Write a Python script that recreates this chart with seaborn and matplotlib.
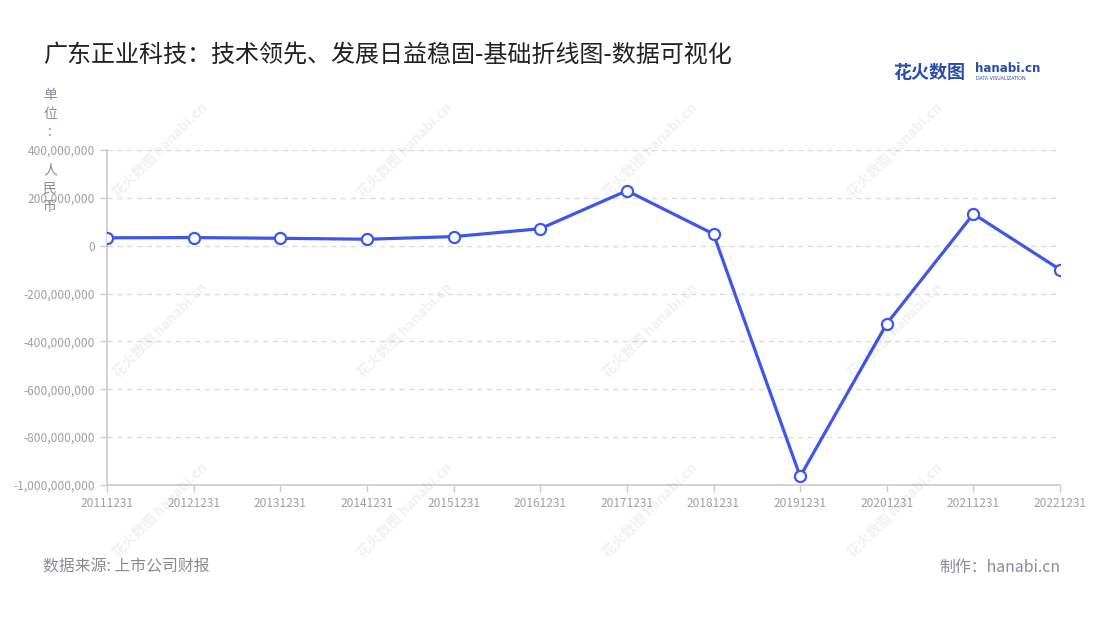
import matplotlib
matplotlib.use("Agg")
import matplotlib.pyplot as plt
import matplotlib.ticker as mticker
import pandas as pd
import seaborn as sns

# 数据
dates = ["20111231", "20121231", "20131231", "20141231", "20151231", "20161231",
         "20171231", "20181231", "20191231", "20201231", "20211231", "20221231"]
profit = [33e6, 34e6, 31e6, 27e6, 38e6, 71e6, 230e6, 49e6, -965e6, -326e6, 133e6, -100e6]
y_ticks = [400e6, 200e6, 0, -200e6, -400e6, -600e6, -800e6, -1000e6]

title = "广东正业科技：技术领先、发展日益稳固-基础折线图-数据可视化"
source = "数据来源: 上市公司财报"
maker = "制作：hanabi.cn"
unit_lines = ["单", "位", ":", "", "人", "民", "币"]

sns.set_theme(style="white")
plt.rcParams["font.family"] = ["Noto Sans CJK SC", "DejaVu Sans"]

df = pd.DataFrame({"date": dates, "value": profit})

fig = plt.figure(figsize=(11, 6.2), dpi=100)
ax = fig.add_axes([0.0973, 0.218, 0.8664, 0.540])

line_color = "#3d57e8"
sns.lineplot(data=df, x="date", y="value", ax=ax, sort=False, color=line_color,
             linewidth=2.3, marker="o", markersize=8, markerfacecolor="white",
             markeredgecolor=line_color, markeredgewidth=1.6, zorder=5)

ax.set_xlim(0, len(dates) - 1)
ax.set_ylim(-1000e6, 400e6)
ax.set_yticks(y_ticks)
ax.yaxis.set_major_formatter(mticker.FuncFormatter(lambda v, p: f"{int(v):,}"))
ax.grid(axis="y", color="#dddddd", linestyle=(0, (4, 3)), linewidth=1)
ax.set_xlabel("")
ax.set_ylabel("")

for s in ["top", "right"]:
    ax.spines[s].set_visible(False)
for s in ["left", "bottom"]:
    ax.spines[s].set_color("#cccccc")
    ax.spines[s].set_linewidth(1.2)
ax.tick_params(axis="both", colors="#cccccc", labelcolor="#a0a0a0", labelsize=8.6,
               length=5, width=1, direction="out", bottom=True, left=True)
ax.tick_params(axis="x", pad=4)

# 标题与注释
fig.text(43 / 1100, 1 - 55 / 620, title, fontsize=17.3, color="#222222", va="center", ha="left")
fig.text(50 / 1100, 1 - 88 / 620, "\n".join(unit_lines), fontsize=10,
         color="#8a8a9a", va="top", ha="center", linespacing=1.43)
fig.text(43 / 1100, 1 - 567 / 620, source, fontsize=11.4, color="#8a8a9a", va="center", ha="left")
fig.text(1060 / 1100, 1 - 567 / 620, maker, fontsize=11.4, color="#8a8a9a", va="center", ha="right")

# logo
fig.text(893 / 1100, 1 - 72 / 620, "花火数图", fontsize=13, color="#2a4ea8",
         fontweight="bold", va="center", ha="left")
fig.text(975 / 1100, 1 - 69 / 620, "hanabi.cn", fontsize=8.6, color="#2a4ea8",
         fontweight="bold", va="center", ha="left", family=["DejaVu Sans"])
fig.text(976 / 1100, 1 - 79 / 620, "DATA VISUALIZATION", fontsize=3.4, color="#2a4ea8",
         va="center", ha="left", family=["DejaVu Sans"])

# 水印
for wx in [160, 405, 650, 895]:
    for wy in [150, 330, 510]:
        fig.text(wx / 1100, 1 - wy / 620, "花火数图 hanabi.cn", fontsize=10, color="#000000",
                 alpha=0.06, rotation=45, ha="center", va="center", fontweight="bold")

fig.savefig("out.png", dpi=100)
